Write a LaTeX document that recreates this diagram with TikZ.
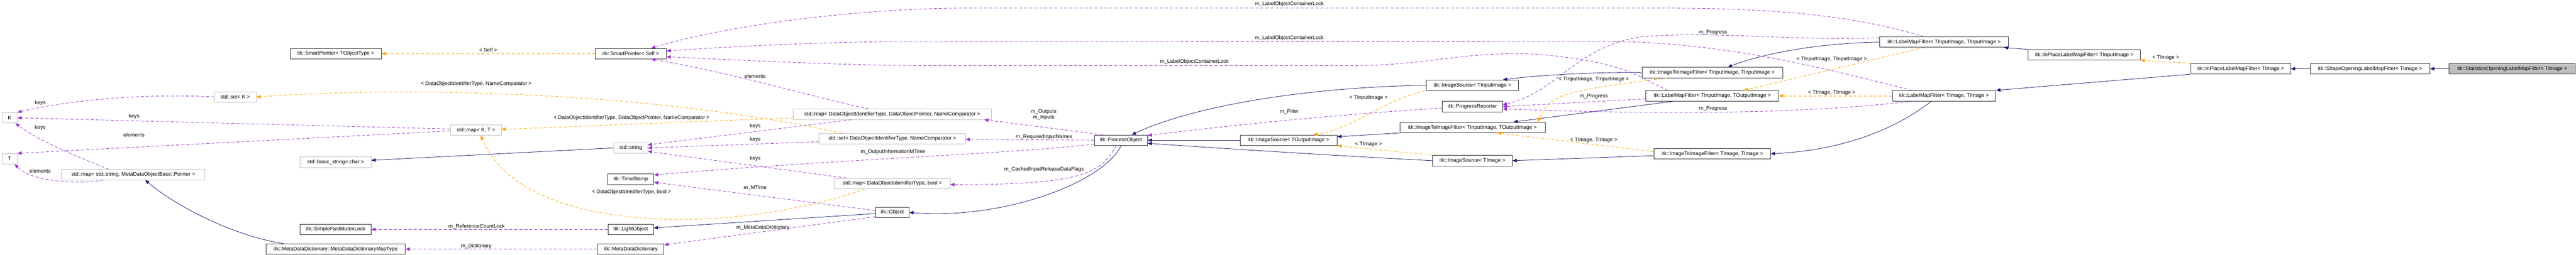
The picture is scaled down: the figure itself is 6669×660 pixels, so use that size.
\documentclass[tikz,border=0pt]{standalone}
\usepackage{fontspec}
\setmainfont{Liberation Sans}
\usetikzlibrary{arrows.meta,calc}
\definecolor{inhc}{HTML}{191970}
\definecolor{usec}{HTML}{9A32CD}
\definecolor{tplc}{HTML}{FFA500}
\begin{document}
\begin{tikzpicture}[x=1pt,y=-1pt,
  every node/.style={font=\fontsize{13.5}{15}\selectfont},
  box/.style={draw=black!80,line width=1.3pt,fill=white,minimum height=27pt,inner sep=2pt},
  gbox/.style={draw=black!25,line width=1.1pt,fill=white,minimum height=27pt,inner sep=2pt},
  lab/.style={inner sep=0pt},
  tip/.style={-{Triangle[length=11pt,width=9pt]}},
  inh/.style={tip,draw=inhc,line width=1.1pt},
  use/.style={tip,draw=usec,line width=1.1pt,dash pattern=on 8pt off 5pt},
  tpl/.style={tip,draw=tplc,line width=1.1pt,dash pattern=on 8pt off 5pt}]
\useasboundingbox (0,0) rectangle (6669,660);
% nodes
\node[box,minimum width=236pt] (spt) at (869,139) {itk::SmartPointer< TObjectType >};
\node[gbox,minimum width=108pt] (setK) at (609,251) {std::set< K >};
\node[gbox,minimum width=39pt] (K) at (25,305) {K};
\node[gbox,minimum width=39pt] (T) at (25,411) {T};
\node[gbox,minimum width=371pt] (mapSM) at (345,452) {std::map< std::string, MetaDataObjectBase::Pointer >};
\node[gbox,minimum width=184pt] (bstr) at (869,420) {std::basic\_string< char >};
\node[box,minimum width=183pt] (sfml) at (869,594) {itk::SimpleFastMutexLock};
\node[box,minimum width=361pt] (mddmt) at (869,645) {itk::MetaDataDictionary::MetaDataDictionaryMapType};
\node[box,minimum width=184pt] (sps) at (1633,139) {itk::SmartPointer< Self >};
\node[gbox,minimum width=132pt] (mapKT) at (1232,337) {std::map< K, T >};
\node[gbox,minimum width=87pt] (str) at (1633,383) {std::string};
\node[box,minimum width=119pt] (ts) at (1633,464) {itk::TimeStamp};
\node[box,minimum width=118pt] (lo) at (1633,594) {itk::LightObject};
\node[box,minimum width=172pt] (mdd) at (1633,645) {itk::MetaDataDictionary};
\node[gbox,minimum width=513pt] (mapDP) at (2310,296) {std::map< DataObjectIdentifierType, DataObjectPointer, NameComparator >};
\node[gbox,minimum width=379pt] (setD) at (2310,359) {std::set< DataObjectIdentifierType, NameComparator >};
\node[gbox,minimum width=299pt] (mapDB) at (2310,475) {std::map< DataObjectIdentifierType, bool >};
\node[box,minimum width=87pt] (obj) at (2310,550) {itk::Object};
\node[box,minimum width=137pt] (po) at (2902,363) {itk::ProcessObject};
\node[box,minimum width=238pt] (isIn) at (3812,221) {itk::ImageSource< TInputImage >};
\node[box,minimum width=155pt] (pr) at (3812,276) {itk::ProgressReporter};
\node[box,minimum width=376pt] (itfIO) at (3812,330) {itk::ImageToImageFilter< TInputImage, TOutputImage >};
\node[box,minimum width=251pt] (isOut) at (3336,363) {itk::ImageSource< TOutputImage >};
\node[box,minimum width=206pt] (isI) at (3812,416) {itk::ImageSource< TImage >};
\node[box,minimum width=333pt] (lmfII) at (5033,109) {itk::LabelMapFilter< TInputImage, TInputImage >};
\node[box,minimum width=364pt] (itfII) at (4433,188) {itk::ImageToImageFilter< TInputImage, TInputImage >};
\node[box,minimum width=344pt] (lmfIO) at (4433,248) {itk::LabelMapFilter< TInputImage, TOutputImage >};
\node[box,minimum width=268pt] (lmfTT) at (5033,248) {itk::LabelMapFilter< TImage, TImage >};
\node[box,minimum width=301pt] (itfTT) at (4433,398) {itk::ImageToImageFilter< TImage, TImage >};
\node[box,minimum width=290pt] (ipIn) at (5396,142) {itk::InPlaceLabelMapFilter< TInputImage >};
\node[box,minimum width=258pt] (ipT) at (5801,178) {itk::InPlaceLabelMapFilter< TImage >};
\node[box,minimum width=309pt] (shape) at (6136,178) {itk::ShapeOpeningLabelMapFilter< TImage >};
\node[box,minimum width=327pt,fill=black!25] (stat) at (6504,178) {itk::StatisticsOpeningLabelMapFilter< TImage >};
% inheritance
\draw[inh] (stat) -- (shape);
\draw[inh] (shape) -- (ipT);
\draw[inh] (ipT.south west) -- (lmfTT.north east);
\draw[inh] (ipIn.north west) -- ([xshift=-12pt]lmfII.south east);
\draw[inh] (lmfII.west) .. controls (4700,112) and (4560,140) .. ([xshift=40pt]itfII.north);
\draw[inh] ([xshift=-33pt]lmfTT.south) .. controls (4900,340) and (4760,390) .. (itfTT.east);
\draw[inh] ([xshift=-100pt]lmfIO.south) -- ([xshift=106pt]itfIO.north);
\draw[inh] (itfII.west) .. controls (4100,186) and (3950,198) .. ([xshift=-41pt]isIn.north east);
\draw[inh] (itfIO.south west) -- ([yshift=9pt]isOut.east);
\draw[inh] ([yshift=-5pt]itfTT.west) -- (isI.east);
\draw[inh] (isIn.west) .. controls (3400,225) and (3100,270) .. ([xshift=28pt]po.north);
\draw[inh] (isOut.west) -- (po.east);
\draw[inh] (isI.west) .. controls (3400,400) and (3100,380) .. ([yshift=-8pt]po.east);
\draw[inh] (po.south) .. controls (2860,470) and (2600,570) .. (obj.east);
\draw[inh] ([yshift=-3pt]obj.west) -- ([yshift=4pt]lo.east);
\draw[inh] (str.west) -- ([yshift=5pt]bstr.east);
\draw[inh] ([xshift=-134pt]mddmt.north) .. controls (600,610) and (450,530) .. ([xshift=31pt]mapSM.south);
% template
\draw[tpl] (sps) -- (spt) node[lab,midway,above=4pt] (l1) {< Self >};
\draw[tpl] ([xshift=-131pt]setD.north) .. controls (1800,260) and (1200,215) .. (setK.east);
\node[lab] (l2) at (1233,217) {< DataObjectIdentifierType, NameComparator >};
\draw[tpl] ([yshift=-9pt]mapDP.west) -- ([yshift=2pt]mapKT.east);
\node[lab] (l3) at (1635,305) {< DataObjectIdentifierType, DataObjectPointer, NameComparator >};
\draw[tpl] ([xshift=-71pt]mapDB.south) .. controls (1900,610) and (1350,610) .. ([xshift=13pt]mapKT.south);
\node[lab] (l4) at (1635,498) {< DataObjectIdentifierType, bool >};
\draw[tpl] ([xshift=-3pt]isIn.south west) .. controls (3590,255) and (3500,335) .. ([xshift=64pt]isOut.north);
\node[lab] (l5) at (3543,253) {< TInputImage >};
\draw[tpl] (isI.north west) -- (isOut.south east);
\node[lab] (l6) at (3543,373) {< TImage >};
\draw[tpl] ([xshift=-118pt]itfII.south) .. controls (4050,235) and (4010,245) .. ([xshift=170pt]itfIO.north);
\node[lab] (l7) at (4126,206) {< TInputImage, TInputImage >};
\draw[tpl] ([yshift=5pt]itfTT.west) -- ([xshift=63pt]itfIO.south);
\node[lab] (l8) at (4126,363) {< TImage, TImage >};
\draw[tpl] ([xshift=-53pt]lmfII.south) -- ([xshift=82pt]lmfIO.north);
\node[lab] (l9) at (4742,154) {< TInputImage, TInputImage >};
\draw[tpl] (lmfTT) -- (lmfIO);
\node[lab] (l10) at (4742,240) {< TImage, TImage >};
\draw[tpl] (ipT.north west) -- (ipIn.south east);
\node[lab] (l11) at (5607,150) {< TImage >};
% usage
\draw[use] ([xshift=-53pt]lmfII.north) .. controls (4800,40) and (4600,21) .. (4300,21) -- (2500,21) .. controls (2250,21) and (1900,60) .. ([xshift=53pt]sps.north);
\node[lab] (u1) at (3338,11) {m\_LabelObjectContainerLock};
\draw[use] ([xshift=-83pt]lmfTT.north) .. controls (4700,170) and (4450,108) .. (4150,107) -- (2300,108) .. controls (2100,110) and (1900,120) .. ([yshift=7pt]sps.east);
\node[lab] (u2) at (3338,98) {m\_LabelObjectContainerLock};
\draw[use] ([xshift=-115pt]lmfIO.north) .. controls (4240,200) and (4220,165) .. (4000,142) .. controls (3800,128) and (3700,170) .. (3500,170) -- (2400,170) .. controls (2200,170) and (1900,155) .. ([yshift=-8pt]sps.east);
\node[lab] (u3) at (3092,160) {m\_LabelObjectContainerLock};
\draw[use] ([xshift=-61pt]mapDP.north) .. controls (2100,250) and (1900,190) .. ([xshift=53pt]sps.south);
\node[lab] (u4) at (1955,197) {elements};
\draw[use] ([yshift=3pt]mapKT.west) -- (K.east);
\node[lab] (u5) at (347,301) {keys};
\draw[use] ([yshift=-2pt]mapKT.west) -- (T.north east);
\node[lab] (u6) at (347,349) {elements};
\draw[use] (setK.west) .. controls (350,240) and (150,265) .. (K.north east);
\node[lab] (u7) at (104,266) {keys};
\draw[use] ([xshift=-64pt]mapSM.north) .. controls (200,405) and (100,365) .. ([xshift=15pt]K.south);
\node[lab] (u8) at (104,331) {keys};
\draw[use] ([xshift=-77pt]mapSM.south) .. controls (200,478) and (80,470) .. ([xshift=13pt]T.south);
\node[lab] (u9) at (104,442) {elements};
\draw[use] ([xshift=-106pt]mapDP.south) -- ([yshift=8pt]str.east);
\node[lab] (u10) at (1955,326) {keys};
\draw[use] ([yshift=-8pt]setD.west) -- (str.east);
\node[lab] (u11) at (1955,361) {keys};
\draw[use] ([xshift=-119pt]mapDB.north) -- ([yshift=-9pt]str.east);
\node[lab] (u12) at (1955,410) {keys};
\draw[use] ([yshift=-10pt]po.west) .. controls (2600,400) and (2200,410) .. ([yshift=11pt]ts.east);
\node[lab] (u13) at (2312,393) {m\_OutputInformationMTime};
\draw[use] ([yshift=5pt]obj.west) -- ([yshift=-8pt]ts.east);
\node[lab] (u14) at (1955,487) {m\_MTime};
\draw[use] (lo) -- (sfml);
\node[lab] (u15) at (1234,586) {m\_ReferenceCountLock};
\draw[use] (mdd) -- (mddmt);
\node[lab] (u16) at (1233,637) {m\_Dictionary};
\draw[use] ([yshift=-11pt]obj.west) -- ([yshift=11pt]mdd.east);
\node[lab] (u17) at (1975,590) {m\_MetaDataDictionary};
\draw[use] ([xshift=-47pt]po.north) -- ([xshift=238pt]mapDP.south);
\node[lab,align=center] (u18) at (2702,297) {m\_Outputs\\m\_Inputs};
\draw[use] (po.west) -- ([yshift=-2pt]setD.east);
\node[lab] (u19) at (2703,354) {m\_RequiredInputNames};
\draw[use] ([xshift=-12pt]po.south) .. controls (2850,450) and (2800,478) .. ([yshift=-3pt]mapDB.east);
\node[lab] (u20) at (2703,439) {m\_CachedInputReleaseDataFlags};
\draw[use] ([yshift=-4pt]pr.west) .. controls (3400,300) and (3100,335) .. ([yshift=-2pt]po.north east);
\node[lab] (u21) at (3338,289) {m\_Filter};
\draw[use] ([yshift=11pt]lmfII.west) .. controls (4600,105) and (4450,80) .. (4250,95) .. controls (4080,120) and (4030,240) .. ([yshift=5pt]pr.east);
\node[lab] (u22) at (4435,84) {m\_Progress};
\draw[use] ([yshift=-8pt]lmfIO.west) -- (pr.east);
\node[lab] (u23) at (4126,249) {m\_Progress};
\draw[use] ([xshift=-80pt]lmfTT.south) .. controls (4700,290) and (4400,300) .. ([yshift=-6pt]pr.east);
\node[lab] (u24) at (4435,282) {m\_Progress};
\end{tikzpicture}
\end{document}
